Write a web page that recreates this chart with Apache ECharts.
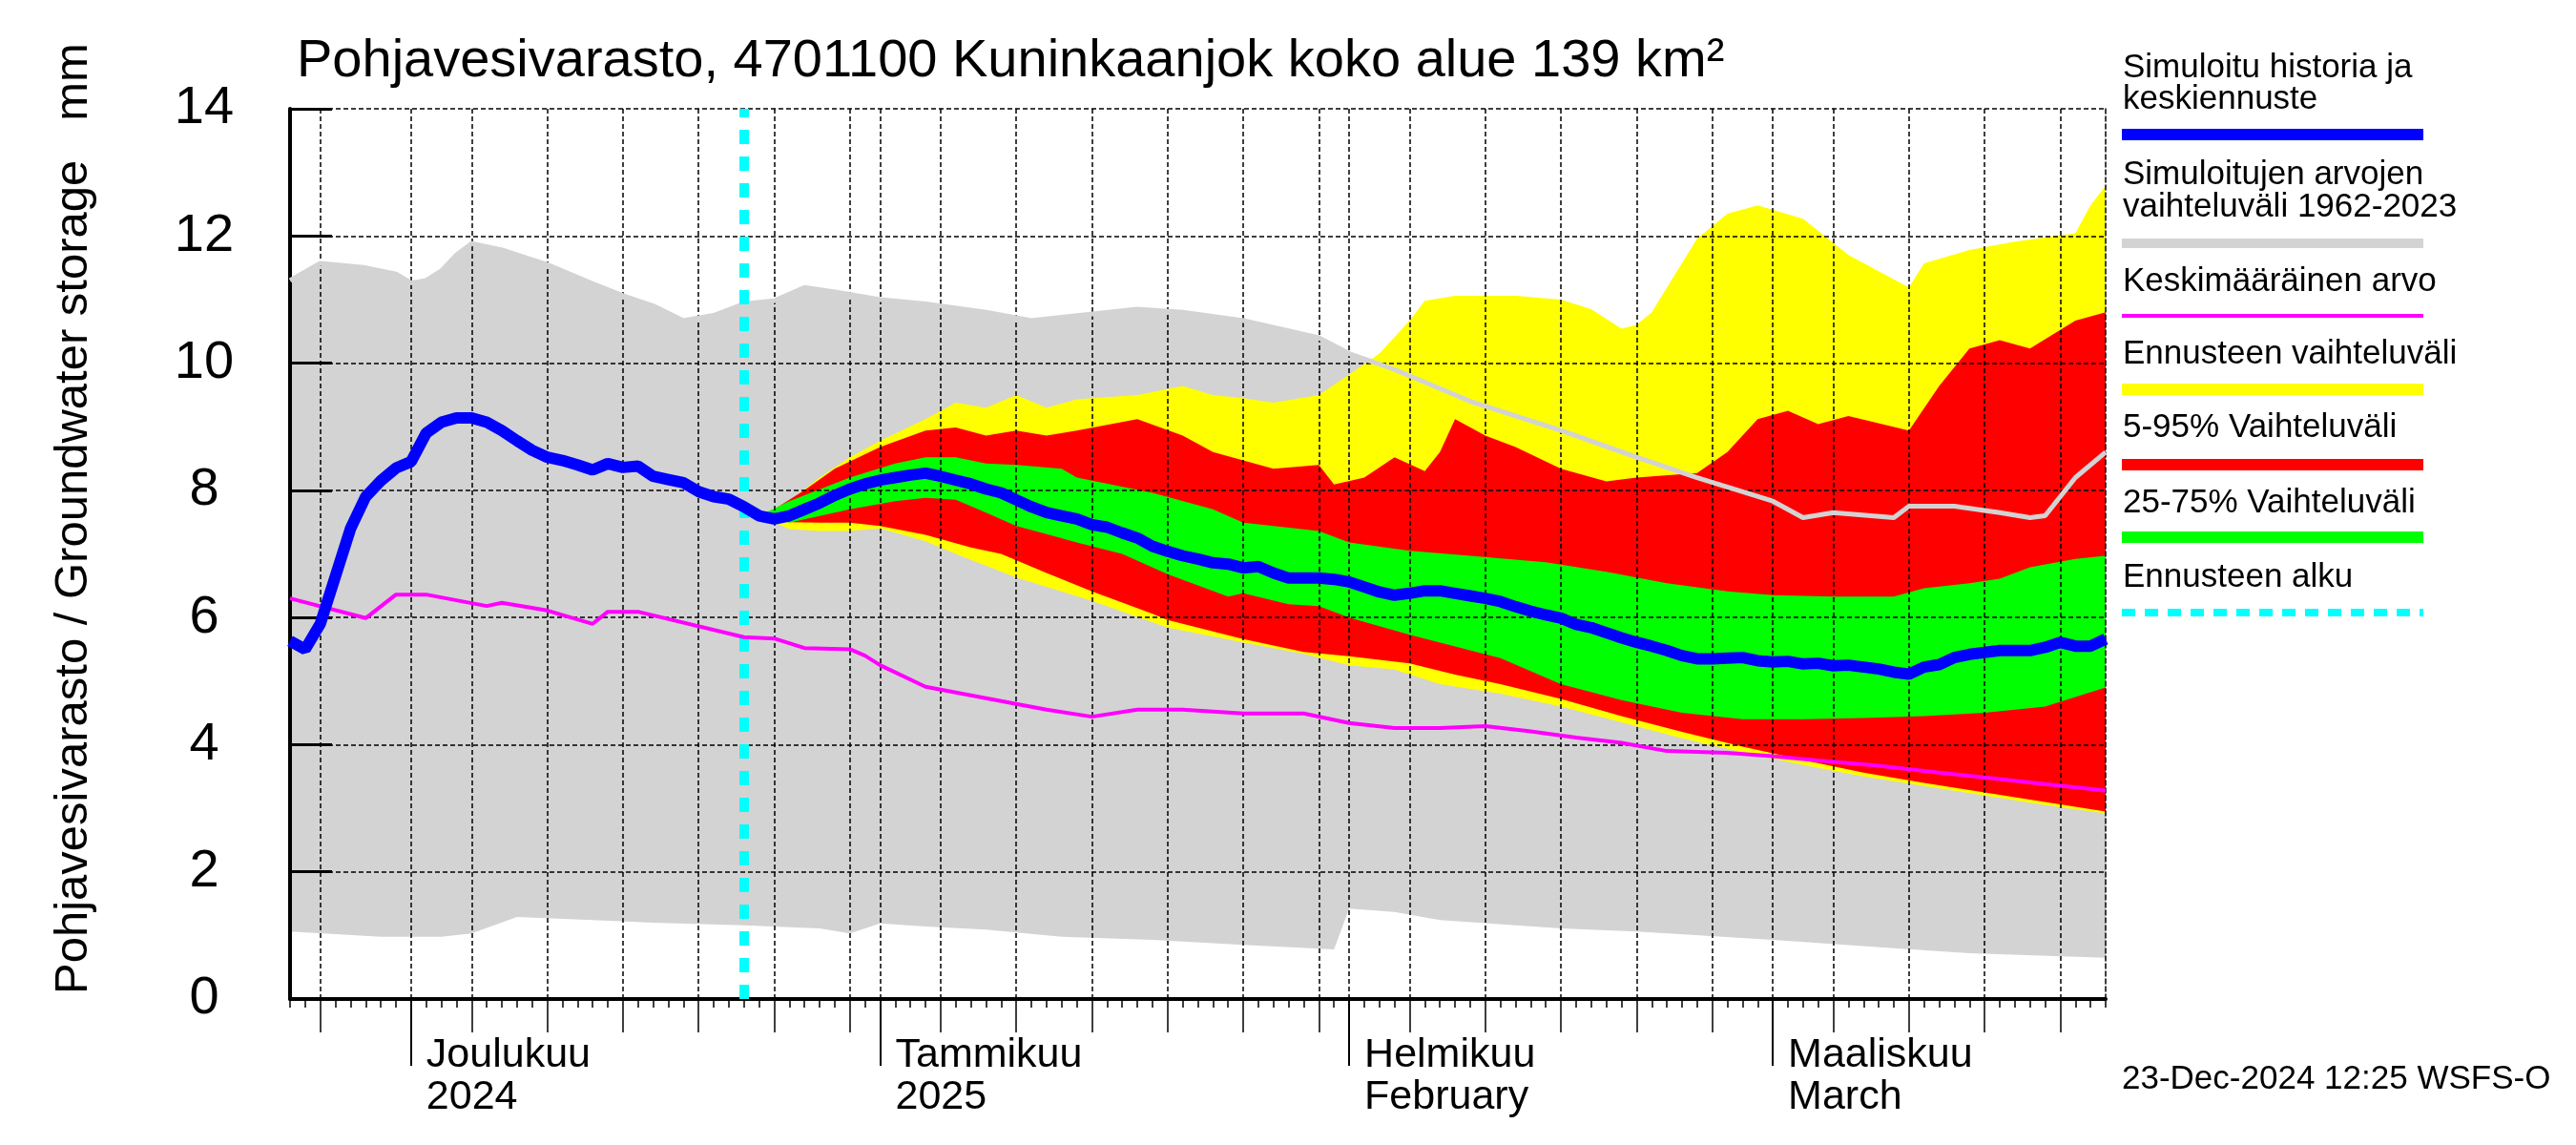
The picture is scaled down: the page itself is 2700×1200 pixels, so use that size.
<!DOCTYPE html>
<html><head><meta charset="utf-8">
<script src="https://cdn.jsdelivr.net/npm/echarts@6/dist/echarts.min.js"></script>
<style>html,body{margin:0;padding:0;background:#fff}#c{width:2700px;height:1200px}</style>
</head><body><div id="c"></div>
<script>
// ---- axis categories: one per day, 2024-11-23 .. 2025-03-23 ----
const categories = [];
for (let i = 0; i < 121; i++) {
  const d = new Date(Date.UTC(2024, 10, 23 + i));
  categories.push(d.toISOString().slice(0, 10));
}
const monthLabels = {
  '2024-12-01': 'Joulukuu\n2024',
  '2025-01-01': 'Tammikuu\n2025',
  '2025-02-01': 'Helmikuu\nFebruary',
  '2025-03-01': 'Maaliskuu\nMarch'
};
const forecastStart = '2024-12-23';
const yTicks = [0, 2, 4, 6, 8, 10, 12, 14];

// ---- series values (x = day index from 2024-11-23) ----
const blueVals = [5.63,5.5,5.9,6.65,7.4,7.9,8.15,8.35,8.45,8.9,9.07,9.14,9.14,9.07,8.94,8.78,8.63,8.52,8.47,8.4,
  8.32,8.42,8.36,8.38,8.22,8.17,8.12,7.98,7.9,7.86,7.74,7.6,7.55,7.6,7.7,7.8,7.92,8.02,8.1,8.16,
  8.2,8.24,8.27,8.22,8.16,8.1,8.02,7.96,7.85,7.74,7.65,7.6,7.55,7.46,7.42,7.33,7.25,7.12,7.04,6.97,
  6.92,6.86,6.84,6.78,6.8,6.7,6.62,6.62,6.62,6.6,6.56,6.48,6.4,6.35,6.38,6.42,6.42,6.38,6.34,6.3,
  6.25,6.17,6.1,6.04,5.99,5.89,5.84,5.76,5.68,5.61,5.55,5.48,5.4,5.35,5.35,5.36,5.37,5.32,5.3,5.31,
  5.27,5.28,5.24,5.25,5.22,5.19,5.14,5.11,5.22,5.26,5.37,5.42,5.45,5.48,5.48,5.48,5.53,5.61,5.55,5.55,5.66];
const greyUpper = [[0,11.3],[2,11.57],[5,11.5],[7,11.4],[8,11.26],[9,11.3],[10,11.45],[11,11.7],[12,11.88],[14,11.78],
  [17,11.55],[20,11.25],[22,11.06],[24,10.9],[26,10.67],[28,10.75],[30,10.93],[32,10.98],[34,11.19],[36,11.12],
  [39,11.0],[42,10.93],[46,10.8],[49,10.67],[51,10.72],[56,10.85],[59,10.8],[63,10.67],[68,10.4],[70,10.15],
  [73,9.9],[78,9.4],[84,8.94],[89,8.52],[93,8.2],[98,7.83],[100,7.57],[102,7.65],[106,7.57],[107,7.75],
  [110,7.75],[113,7.65],[115,7.57],[116,7.6],[118,8.2],[120,8.6]];
const greyLower = [[0,1.06],[6,0.98],[10,0.98],[12,1.03],[15,1.29],[20,1.24],[24,1.2],[30,1.16],[35,1.11],[37,1.03],
  [39,1.19],[42,1.14],[46,1.09],[51,0.98],[57,0.93],[63,0.85],[69,0.78],[70,1.42],[73,1.37],[76,1.24],
  [84,1.11],[89,1.06],[98,0.93],[106,0.8],[111,0.72],[120,0.65]];
const meanVals = [[0,6.3],[5,5.99],[7,6.36],[9,6.36],[13,6.18],[14,6.23],[17,6.11],[20,5.9],[21,6.09],[23,6.09],
  [30,5.69],[32,5.67],[34,5.52],[37,5.5],[38,5.4],[39,5.25],[42,4.91],[46,4.73],[50,4.55],[53,4.44],
  [56,4.55],[59,4.55],[63,4.49],[67,4.49],[70,4.34],[73,4.26],[76,4.26],[79,4.29],[82,4.21],[85,4.11],
  [88,4.03],[91,3.9],[95,3.87],[98,3.82],[101,3.75],[105,3.67],[109,3.56],[113,3.46],[116,3.38],[120,3.28]];
const yellowUpper = [[31,7.6],[33,7.83],[35,8.2],[37,8.52],[39,8.78],[42,9.12],[44,9.38],[46,9.3],[48,9.5],[50,9.3],
  [52,9.43],[56,9.5],[59,9.64],[61,9.5],[63,9.45],[65,9.38],[68,9.5],[70,9.82],[72,10.15],[74,10.67],
  [75,10.98],[77,11.06],[81,11.06],[84,11.0],[86,10.85],[88,10.54],[89,10.6],[90,10.8],[93,11.96],[95,12.35],
  [97,12.48],[100,12.27],[103,11.7],[107,11.19],[108,11.57],[111,11.78],[114,11.91],[118,12.04],[119,12.48],[120,12.79]];
const yellowLower = [[31,7.6],[33,7.39],[35,7.36],[37,7.36],[39,7.4],[42,7.2],[44,7.0],[48,6.63],[53,6.26],[58,5.84],
  [63,5.61],[67,5.43],[70,5.25],[73,5.18],[76,4.95],[80,4.8],[84,4.6],[88,4.35],[92,4.1],[96,3.88],
  [100,3.68],[104,3.5],[108,3.35],[112,3.2],[116,3.05],[120,2.92]];
const redUpper = [[31,7.6],[32,7.7],[34,8.0],[36,8.34],[39,8.68],[42,8.94],[44,8.99],[46,8.86],[48,8.94],[50,8.86],
  [52,8.94],[56,9.12],[59,8.86],[61,8.6],[63,8.47],[65,8.34],[68,8.4],[69,8.09],[71,8.2],[73,8.52],
  [75,8.3],[76,8.6],[77,9.12],[79,8.86],[81,8.68],[84,8.34],[87,8.14],[89,8.2],[93,8.27],[95,8.6],
  [97,9.12],[99,9.25],[101,9.04],[103,9.17],[107,8.94],[109,9.64],[111,10.23],[113,10.36],[115,10.23],[118,10.67],[120,10.8]];
const redLower = [[31,7.6],[33,7.5],[35,7.49],[37,7.49],[39,7.44],[42,7.3],[45,7.1],[47,7.0],[50,6.7],[53,6.41],
  [57,6.06],[58,5.96],[63,5.66],[67,5.46],[70,5.39],[74,5.28],[77,5.1],[80,4.95],[84,4.72],[88,4.45],
  [92,4.2],[96,3.97],[100,3.76],[104,3.56],[108,3.4],[112,3.25],[116,3.1],[120,2.95]];
const greenUpper = [[31,7.6],[33,7.83],[37,8.2],[40,8.42],[42,8.52],[44,8.52],[46,8.42],[48,8.4],[51,8.34],[52,8.2],
  [57,7.96],[61,7.7],[63,7.49],[68,7.36],[70,7.18],[74,7.05],[78,6.97],[83,6.87],[87,6.72],[91,6.54],
  [95,6.41],[98,6.35],[102,6.33],[106,6.33],[108,6.46],[111,6.54],[113,6.61],[115,6.79],[118,6.92],[120,6.97]];
const greenLower = [[31,7.6],[33,7.49],[37,7.7],[40,7.83],[42,7.88],[44,7.85],[46,7.65],[48,7.44],[50,7.31],[52,7.18],
  [55,7.0],[58,6.68],[62,6.33],[63,6.38],[66,6.21],[68,6.18],[70,6.0],[74,5.73],[80,5.36],[84,4.95],
  [88,4.7],[92,4.5],[96,4.4],[100,4.4],[104,4.42],[108,4.45],[112,4.5],[116,4.6],[120,4.9]];

// ---- helpers ----
const FONT = "'Liberation Sans', Arial, Helvetica, sans-serif";
function catName(v) { return typeof v === 'number' ? categories[v] : String(v); }
function dayOf(v) { return parseInt(catName(v).slice(8), 10); }
function isLastDay(v) { const d = new Date(catName(v) + 'T00:00:00Z'); d.setUTCDate(d.getUTCDate() + 1); return d.getUTCDate() === 1; }
function isMonth(i) { return dayOf(categories[i]) === 1; }
function isFive(i) { const v = categories[i]; const d = dayOf(v); return d === 1 || (d % 5 === 0 && !isLastDay(v)); }

function band(name, upper, lower, color) {
  return {
    type: 'custom', name: name, z: 1, silent: true, data: [[0, 0]],
    renderItem: function (params, api) {
      const pts = upper.map(p => api.coord(p)).concat(lower.slice().reverse().map(p => api.coord(p)));
      return { type: 'polygon', shape: { points: pts }, style: { fill: color } };
    }
  };
}

// ---- legend (graphic) ----
const legendItems = [
  { lines: ['Simuloitu historia ja', 'keskiennuste'], ys: [74, 107], ly: 141, color: '#0000ff', w: 12 },
  { lines: ['Simuloitujen arvojen', 'vaihteluväli 1962-2023'], ys: [186, 220], ly: 255, color: '#d3d3d3', w: 10 },
  { lines: ['Keskimääräinen arvo'], ys: [298], ly: 331, color: '#ff00ff', w: 4 },
  { lines: ['Ennusteen vaihteluväli'], ys: [374], ly: 408, color: '#ffff00', w: 12 },
  { lines: ['5-95% Vaihteluväli'], ys: [451], ly: 487, color: '#ff0000', w: 12 },
  { lines: ['25-75% Vaihteluväli'], ys: [530], ly: 563, color: '#00ff00', w: 12 },
  { lines: ['Ennusteen alku'], ys: [608], ly: 642, color: '#00ffff', w: 8, dash: [14, 10] }
];
const graphics = [];
legendItems.forEach(it => {
  it.lines.forEach((t, k) => graphics.push({ type: 'text', left: 2225, top: it.ys[k] - 20, style: { text: t, font: '35px ' + FONT, fill: '#000' } }));
  graphics.push({ type: 'line', shape: { x1: 2224, y1: it.ly, x2: 2540, y2: it.ly }, style: { stroke: it.color, lineWidth: it.w, lineDash: it.dash || null } });
});
graphics.push({ type: 'text', left: 2224, top: 1114, style: { text: '23-Dec-2024 12:25 WSFS-O', font: '35px ' + FONT, fill: '#000' } });
graphics.push({ type: 'text', x: 77, y: 1042, rotation: Math.PI / 2,
  style: { text: 'Pohjavesivarasto / Groundwater storage   mm', font: '49px ' + FONT, fill: '#000', textAlign: 'left', textVerticalAlign: 'middle' } });

const gridLine = { show: true, lineStyle: { color: '#000', width: 1.5, type: [5, 3] } };
const xBase = { type: 'category', data: categories, boundaryGap: false, gridIndex: 0, position: 'bottom', z: 3 };

const option = {
  animation: false,
  backgroundColor: '#fff',
  title: { text: 'Pohjavesivarasto, 4701100 Kuninkaanjok koko alue 139 km²', left: 306, top: 32,
    textStyle: { fontFamily: FONT, fontSize: 56, fontWeight: 'normal', color: '#000' } },
  grid: { left: 304, top: 114, width: 1903, height: 933 },
  xAxis: [
    Object.assign({}, xBase, {
      axisLine: { show: true, lineStyle: { color: '#000', width: 4 } },
      axisTick: { show: true, interval: 0, length: 9, lineStyle: { color: '#000', width: 1.5 } },
      axisLabel: { show: false }, splitLine: { show: false }
    }),
    Object.assign({}, xBase, {
      axisLine: { show: false },
      axisTick: { show: true, interval: isFive, length: 35, lineStyle: { color: '#000', width: 1.5 } },
      axisLabel: { show: false },
      splitLine: Object.assign({ interval: isFive }, gridLine)
    }),
    Object.assign({}, xBase, {
      axisLine: { show: false },
      axisTick: { show: true, interval: isMonth, length: 70, lineStyle: { color: '#000', width: 2 } },
      axisLabel: { show: true, interval: isMonth, hideOverlap: false,
        formatter: v => monthLabels[catName(v)] || '', align: 'left', padding: [0, 0, 0, 16], margin: 37,
        fontFamily: FONT, fontSize: 43, lineHeight: 44, color: '#000' },
      splitLine: { show: false }
    })
  ],
  yAxis: [
    { type: 'value', min: 0, max: 14, interval: 2, z: 3,
      axisLine: { show: true, lineStyle: { color: '#000', width: 4 } },
      axisTick: { show: true, inside: true, length: 44, lineStyle: { color: '#000', width: 3 } },
      axisLabel: { fontFamily: FONT, fontSize: 56, color: '#000', align: 'center', margin: 90,
        formatter: v => (yTicks.indexOf(v) >= 0 ? String(v) : '') },
      splitLine: gridLine },
    { type: 'value', min: 0, max: 14, interval: 2, position: 'right', z: 3,
      axisLine: { show: true, lineStyle: { color: '#000', width: 1.5, type: [5, 3] } },
      axisTick: { show: false }, axisLabel: { show: false }, splitLine: { show: false } }
  ],
  graphic: graphics,
  series: [
    band('Simuloitujen arvojen vaihteluväli', greyUpper, greyLower, '#d3d3d3'),
    band('Ennusteen vaihteluväli', yellowUpper, yellowLower, '#ffff00'),
    band('5-95% Vaihteluväli', redUpper, redLower, '#ff0000'),
    band('25-75% Vaihteluväli', greenUpper, greenLower, '#00ff00'),
    { type: 'line', name: 'grey upper', z: 4, data: greyUpper, symbol: 'none', silent: true,
      lineStyle: { color: '#d3d3d3', width: 5 } },
    { type: 'line', name: 'Keskimääräinen arvo', z: 5, data: meanVals, symbol: 'none', silent: true,
      lineStyle: { color: '#ff00ff', width: 4 } },
    { type: 'line', name: 'Simuloitu historia ja keskiennuste', z: 6, data: blueVals, symbol: 'none', silent: true,
      lineStyle: { color: '#0000ff', width: 12 },
      markLine: { silent: true, symbol: ['none', 'none'], label: { show: false },
        lineStyle: { color: '#00ffff', width: 10, type: [15, 13] },
        data: [{ xAxis: forecastStart }] } }
  ]
};
const chart = echarts.init(document.getElementById('c'));
chart.setOption(option);
</script></body></html>
